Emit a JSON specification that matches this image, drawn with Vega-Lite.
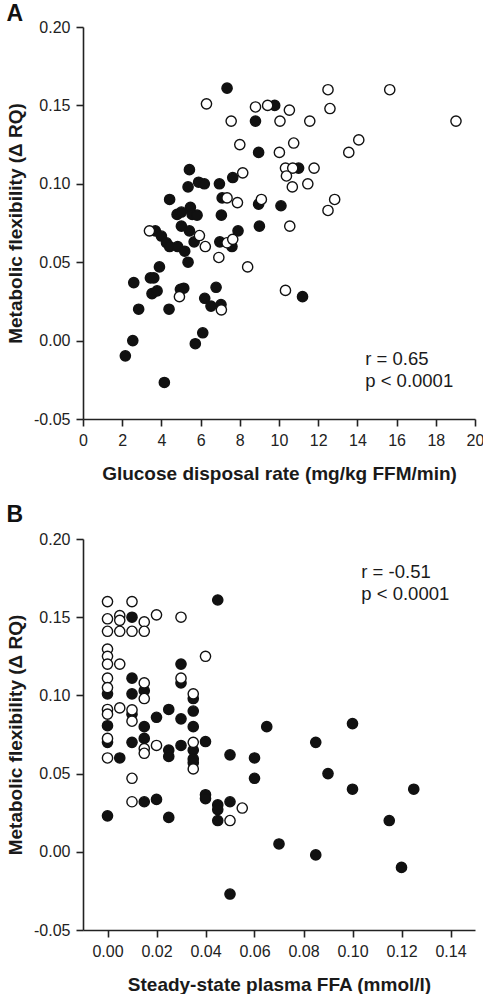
{
  "$schema": "https://vega.github.io/schema/vega-lite/v6.json",
  "padding": {"left": 6, "top": 3, "right": 0, "bottom": 0},
  "spacing": 21,
  "config": {
    "font": "Liberation Sans",
    "view": {"stroke": null},
    "axis": {
      "grid": false,
      "domainColor": "#222222",
      "domainWidth": 1.6,
      "tickColor": "#222222",
      "tickWidth": 1.6,
      "tickSize": 7,
      "labelFont": "Liberation Sans",
      "labelFontSize": 16,
      "labelColor": "#222222",
      "labelPadding": 6,
      "labelFlush": false,
      "labelOverlap": false,
      "titleFont": "Liberation Sans",
      "titleFontSize": 19,
      "titleFontWeight": "bold",
      "titleColor": "#1a1a1a"
    },
    "title": {"font": "Liberation Sans", "fontSize": 23, "fontWeight": "bold", "anchor": "start", "frame": "bounds", "color": "#111111"}
  },
  "datasets": {
    "glucose": [
      {"x": 7.35, "y": 0.161, "type": "filled"},
      {"x": 9.78, "y": 0.150, "type": "filled"},
      {"x": 8.8, "y": 0.140, "type": "filled"},
      {"x": 8.96, "y": 0.120, "type": "filled"},
      {"x": 11.0, "y": 0.110, "type": "filled"},
      {"x": 5.43, "y": 0.109, "type": "filled"},
      {"x": 7.64, "y": 0.104, "type": "filled"},
      {"x": 5.9, "y": 0.101, "type": "filled"},
      {"x": 6.19, "y": 0.100, "type": "filled"},
      {"x": 6.96, "y": 0.100, "type": "filled"},
      {"x": 5.36, "y": 0.098, "type": "filled"},
      {"x": 4.42, "y": 0.090, "type": "filled"},
      {"x": 7.1, "y": 0.091, "type": "filled"},
      {"x": 8.96, "y": 0.087, "type": "filled"},
      {"x": 10.1, "y": 0.086, "type": "filled"},
      {"x": 5.48, "y": 0.085, "type": "filled"},
      {"x": 4.8, "y": 0.0805, "type": "filled"},
      {"x": 5.02, "y": 0.082, "type": "filled"},
      {"x": 5.57, "y": 0.0805, "type": "filled"},
      {"x": 5.82, "y": 0.080, "type": "filled"},
      {"x": 7.06, "y": 0.080, "type": "filled"},
      {"x": 9.0, "y": 0.073, "type": "filled"},
      {"x": 3.69, "y": 0.070, "type": "filled"},
      {"x": 4.0, "y": 0.0667, "type": "filled"},
      {"x": 5.02, "y": 0.073, "type": "filled"},
      {"x": 5.43, "y": 0.070, "type": "filled"},
      {"x": 7.91, "y": 0.070, "type": "filled"},
      {"x": 4.26, "y": 0.0624, "type": "filled"},
      {"x": 4.42, "y": 0.060, "type": "filled"},
      {"x": 4.83, "y": 0.060, "type": "filled"},
      {"x": 5.19, "y": 0.057, "type": "filled"},
      {"x": 5.67, "y": 0.063, "type": "filled"},
      {"x": 6.98, "y": 0.063, "type": "filled"},
      {"x": 7.6, "y": 0.060, "type": "filled"},
      {"x": 5.36, "y": 0.050, "type": "filled"},
      {"x": 3.9, "y": 0.047, "type": "filled"},
      {"x": 2.59, "y": 0.037, "type": "filled"},
      {"x": 3.44, "y": 0.040, "type": "filled"},
      {"x": 3.61, "y": 0.040, "type": "filled"},
      {"x": 3.52, "y": 0.030, "type": "filled"},
      {"x": 3.78, "y": 0.0317, "type": "filled"},
      {"x": 2.84, "y": 0.020, "type": "filled"},
      {"x": 4.39, "y": 0.020, "type": "filled"},
      {"x": 4.97, "y": 0.0327, "type": "filled"},
      {"x": 5.14, "y": 0.0334, "type": "filled"},
      {"x": 6.79, "y": 0.034, "type": "filled"},
      {"x": 6.21, "y": 0.027, "type": "filled"},
      {"x": 6.53, "y": 0.022, "type": "filled"},
      {"x": 7.04, "y": 0.023, "type": "filled"},
      {"x": 2.54, "y": 0.000, "type": "filled"},
      {"x": 2.16, "y": -0.0097, "type": "filled"},
      {"x": 6.11, "y": 0.005, "type": "filled"},
      {"x": 5.73, "y": -0.002, "type": "filled"},
      {"x": 4.15, "y": -0.0267, "type": "filled"},
      {"x": 11.2, "y": 0.028, "type": "filled"},
      {"x": 6.3, "y": 0.151, "type": "open"},
      {"x": 7.56, "y": 0.140, "type": "open"},
      {"x": 8.0, "y": 0.125, "type": "open"},
      {"x": 8.15, "y": 0.107, "type": "open"},
      {"x": 7.35, "y": 0.091, "type": "open"},
      {"x": 7.88, "y": 0.088, "type": "open"},
      {"x": 3.39, "y": 0.070, "type": "open"},
      {"x": 5.94, "y": 0.067, "type": "open"},
      {"x": 6.24, "y": 0.060, "type": "open"},
      {"x": 7.35, "y": 0.0624, "type": "open"},
      {"x": 7.64, "y": 0.0646, "type": "open"},
      {"x": 6.93, "y": 0.053, "type": "open"},
      {"x": 8.4, "y": 0.047, "type": "open"},
      {"x": 4.92, "y": 0.028, "type": "open"},
      {"x": 7.06, "y": 0.0196, "type": "open"},
      {"x": 10.33, "y": 0.032, "type": "open"},
      {"x": 12.5, "y": 0.160, "type": "open"},
      {"x": 15.65, "y": 0.160, "type": "open"},
      {"x": 8.8, "y": 0.149, "type": "open"},
      {"x": 9.42, "y": 0.150, "type": "open"},
      {"x": 10.53, "y": 0.147, "type": "open"},
      {"x": 12.6, "y": 0.148, "type": "open"},
      {"x": 10.05, "y": 0.140, "type": "open"},
      {"x": 11.57, "y": 0.140, "type": "open"},
      {"x": 19.03, "y": 0.140, "type": "open"},
      {"x": 10.75, "y": 0.126, "type": "open"},
      {"x": 14.07, "y": 0.128, "type": "open"},
      {"x": 10.02, "y": 0.120, "type": "open"},
      {"x": 13.56, "y": 0.120, "type": "open"},
      {"x": 10.33, "y": 0.110, "type": "open"},
      {"x": 10.7, "y": 0.110, "type": "open"},
      {"x": 11.79, "y": 0.110, "type": "open"},
      {"x": 10.38, "y": 0.105, "type": "open"},
      {"x": 10.68, "y": 0.098, "type": "open"},
      {"x": 11.47, "y": 0.100, "type": "open"},
      {"x": 9.1, "y": 0.090, "type": "open"},
      {"x": 12.84, "y": 0.090, "type": "open"},
      {"x": 12.5, "y": 0.083, "type": "open"},
      {"x": 10.55, "y": 0.073, "type": "open"}
    ],
    "ffa": [
      {"x": 0.045, "y": 0.161, "type": "filled"},
      {"x": 0.010, "y": 0.150, "type": "filled"},
      {"x": 0.030, "y": 0.120, "type": "filled"},
      {"x": 0.010, "y": 0.111, "type": "filled"},
      {"x": 0.010, "y": 0.101, "type": "filled"},
      {"x": 0.015, "y": 0.103, "type": "filled"},
      {"x": 0.030, "y": 0.108, "type": "filled"},
      {"x": 0.035, "y": 0.098, "type": "filled"},
      {"x": 0.000, "y": 0.101, "type": "filled"},
      {"x": 0.010, "y": 0.088, "type": "filled"},
      {"x": 0.020, "y": 0.086, "type": "filled"},
      {"x": 0.025, "y": 0.091, "type": "filled"},
      {"x": 0.030, "y": 0.085, "type": "filled"},
      {"x": 0.035, "y": 0.090, "type": "filled"},
      {"x": 0.035, "y": 0.080, "type": "filled"},
      {"x": 0.000, "y": 0.0806, "type": "filled"},
      {"x": 0.000, "y": 0.070, "type": "filled"},
      {"x": 0.010, "y": 0.070, "type": "filled"},
      {"x": 0.015, "y": 0.080, "type": "filled"},
      {"x": 0.015, "y": 0.0725, "type": "filled"},
      {"x": 0.025, "y": 0.065, "type": "filled"},
      {"x": 0.025, "y": 0.061, "type": "filled"},
      {"x": 0.030, "y": 0.068, "type": "filled"},
      {"x": 0.035, "y": 0.065, "type": "filled"},
      {"x": 0.035, "y": 0.0594, "type": "filled"},
      {"x": 0.040, "y": 0.0705, "type": "filled"},
      {"x": 0.050, "y": 0.062, "type": "filled"},
      {"x": 0.005, "y": 0.060, "type": "filled"},
      {"x": 0.015, "y": 0.032, "type": "filled"},
      {"x": 0.020, "y": 0.0335, "type": "filled"},
      {"x": 0.040, "y": 0.0365, "type": "filled"},
      {"x": 0.040, "y": 0.034, "type": "filled"},
      {"x": 0.045, "y": 0.030, "type": "filled"},
      {"x": 0.045, "y": 0.027, "type": "filled"},
      {"x": 0.050, "y": 0.032, "type": "filled"},
      {"x": 0.000, "y": 0.023, "type": "filled"},
      {"x": 0.025, "y": 0.022, "type": "filled"},
      {"x": 0.045, "y": 0.020, "type": "filled"},
      {"x": 0.050, "y": -0.027, "type": "filled"},
      {"x": 0.060, "y": 0.047, "type": "filled"},
      {"x": 0.035, "y": 0.057, "type": "filled"},
      {"x": 0.060, "y": 0.060, "type": "filled"},
      {"x": 0.065, "y": 0.080, "type": "filled"},
      {"x": 0.100, "y": 0.082, "type": "filled"},
      {"x": 0.085, "y": 0.070, "type": "filled"},
      {"x": 0.090, "y": 0.050, "type": "filled"},
      {"x": 0.100, "y": 0.040, "type": "filled"},
      {"x": 0.125, "y": 0.040, "type": "filled"},
      {"x": 0.115, "y": 0.020, "type": "filled"},
      {"x": 0.070, "y": 0.005, "type": "filled"},
      {"x": 0.085, "y": -0.002, "type": "filled"},
      {"x": 0.120, "y": -0.010, "type": "filled"},
      {"x": 0.000, "y": 0.160, "type": "open"},
      {"x": 0.010, "y": 0.160, "type": "open"},
      {"x": 0.000, "y": 0.149, "type": "open"},
      {"x": 0.005, "y": 0.151, "type": "open"},
      {"x": 0.005, "y": 0.148, "type": "open"},
      {"x": 0.015, "y": 0.147, "type": "open"},
      {"x": 0.020, "y": 0.1515, "type": "open"},
      {"x": 0.030, "y": 0.150, "type": "open"},
      {"x": 0.000, "y": 0.141, "type": "open"},
      {"x": 0.005, "y": 0.141, "type": "open"},
      {"x": 0.010, "y": 0.141, "type": "open"},
      {"x": 0.015, "y": 0.141, "type": "open"},
      {"x": 0.040, "y": 0.125, "type": "open"},
      {"x": 0.000, "y": 0.1296, "type": "open"},
      {"x": 0.000, "y": 0.125, "type": "open"},
      {"x": 0.000, "y": 0.120, "type": "open"},
      {"x": 0.005, "y": 0.120, "type": "open"},
      {"x": 0.000, "y": 0.111, "type": "open"},
      {"x": 0.015, "y": 0.108, "type": "open"},
      {"x": 0.030, "y": 0.111, "type": "open"},
      {"x": 0.000, "y": 0.105, "type": "open"},
      {"x": 0.015, "y": 0.098, "type": "open"},
      {"x": 0.035, "y": 0.101, "type": "open"},
      {"x": 0.000, "y": 0.091, "type": "open"},
      {"x": 0.000, "y": 0.088, "type": "open"},
      {"x": 0.005, "y": 0.092, "type": "open"},
      {"x": 0.010, "y": 0.0907, "type": "open"},
      {"x": 0.010, "y": 0.0835, "type": "open"},
      {"x": 0.000, "y": 0.0725, "type": "open"},
      {"x": 0.015, "y": 0.066, "type": "open"},
      {"x": 0.015, "y": 0.063, "type": "open"},
      {"x": 0.020, "y": 0.068, "type": "open"},
      {"x": 0.035, "y": 0.070, "type": "open"},
      {"x": 0.035, "y": 0.053, "type": "open"},
      {"x": 0.000, "y": 0.060, "type": "open"},
      {"x": 0.010, "y": 0.047, "type": "open"},
      {"x": 0.010, "y": 0.032, "type": "open"},
      {"x": 0.055, "y": 0.028, "type": "open"},
      {"x": 0.050, "y": 0.020, "type": "open"}
    ]
  },
  "vconcat": [
    {
      "title": {"text": "A", "offset": -7},
      "width": 392,
      "height": 392,
      "encoding": {
        "x": {"field": "x", "type": "quantitative", "title": "Glucose disposal rate (mg/kg FFM/min)",
              "scale": {"domain": [0, 20], "nice": false, "zero": false},
              "axis": {"values": [0, 2, 4, 6, 8, 10, 12, 14, 16, 18, 20], "tickCount": 11, "labelOverlap": false, "labelSeparation": 0, "titlePadding": 16}},
        "y": {"field": "y", "type": "quantitative", "title": "Metabolic flexibility (Δ RQ)",
              "scale": {"domain": [-0.05, 0.2], "nice": false, "zero": false},
              "axis": {"values": [-0.05, 0, 0.05, 0.1, 0.15, 0.2], "format": ".2f", "labelOverlap": false, "labelExpr": "replace(datum.label, '\u2212', '-')", "titlePadding": 8}}
      },
      "layer": [
        {
          "data": {"name": "glucose"},
          "mark": {"type": "circle", "size": 105, "stroke": "#111111", "strokeWidth": 1.4, "opacity": 1},
          "encoding": {
            "fill": {"field": "type", "type": "nominal", "scale": {"domain": ["filled", "open"], "range": ["#111111", "#ffffff"]}, "legend": null}
          }
        },
        {
          "data": {"values": [{"x": 14.4, "y": -0.0117, "label": "r = 0.65"}, {"x": 14.4, "y": -0.026, "label": "p < 0.0001"}]},
          "mark": {"type": "text", "align": "left", "baseline": "middle", "fontSize": 18.5, "font": "Liberation Sans", "color": "#1a1a1a"},
          "encoding": {
            "text": {"field": "label"}
          }
        }
      ]
    },
    {
      "title": {"text": "B", "offset": 4},
      "width": 392,
      "height": 391,
      "encoding": {
        "x": {"field": "x", "type": "quantitative", "title": "Steady-state plasma FFA (mmol/l)",
              "scale": {"domain": [-0.01, 0.15], "nice": false, "zero": false},
              "axis": {"values": [0, 0.02, 0.04, 0.06, 0.08, 0.1, 0.12, 0.14], "format": ".2f", "labelOverlap": false, "titlePadding": 16}},
        "y": {"field": "y", "type": "quantitative", "title": "Metabolic flexibility (Δ RQ)",
              "scale": {"domain": [-0.05, 0.2], "nice": false, "zero": false},
              "axis": {"values": [-0.05, 0, 0.05, 0.1, 0.15, 0.2], "format": ".2f", "labelOverlap": false, "labelExpr": "replace(datum.label, '\u2212', '-')", "titlePadding": 8}}
      },
      "layer": [
        {
          "data": {"name": "ffa"},
          "mark": {"type": "circle", "size": 105, "stroke": "#111111", "strokeWidth": 1.4, "opacity": 1},
          "encoding": {
            "fill": {"field": "type", "type": "nominal", "scale": {"domain": ["filled", "open"], "range": ["#111111", "#ffffff"]}, "legend": null}
          }
        },
        {
          "data": {"values": [{"x": 0.1036, "y": 0.179, "label": "r = -0.51"}, {"x": 0.1036, "y": 0.165, "label": "p < 0.0001"}]},
          "mark": {"type": "text", "align": "left", "baseline": "middle", "fontSize": 18.5, "font": "Liberation Sans", "color": "#1a1a1a"},
          "encoding": {
            "text": {"field": "label"}
          }
        }
      ]
    }
  ]
}
